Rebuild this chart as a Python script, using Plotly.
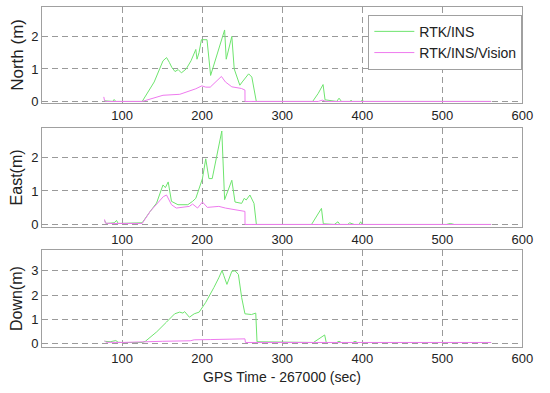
import plotly.graph_objects as go

# ---------------- data ----------------
# North
north_ins_t = [78, 88, 90, 92, 125, 140, 151, 155.5, 159, 162, 166, 170, 174, 180, 186, 192, 193.5, 196,
               199, 206, 210.5, 228, 230, 237, 240, 247, 250, 258, 262, 267.6, 338, 345, 351, 353.5,
               368, 371, 374, 385, 386, 387, 398, 400, 402, 561]
north_ins_v = [0.02, 0.0, 0.06, 0.0, 0.0, 0.6, 1.25, 1.35, 1.2, 1.05, 0.92, 0.98, 0.88, 1.0, 1.25, 1.6, 1.3, 1.5,
               1.9, 1.9, 0.8, 2.2, 1.3, 2.0, 1.0, 0.5, 0.6, 0.85, 0.75, 0.0, 0.0, 0.25, 0.52, 0.05,
               0.0, 0.1, 0.0, 0.0, 0.04, 0.0, 0.0, 0.04, 0.0, 0.0]
north_vis_t = [77, 78, 80, 125, 151, 172, 192, 199.5, 204.5, 210, 224, 229, 237, 249, 253.4, 253.5,
               345, 350, 355, 561]
north_vis_v = [0.14, 0.02, 0.0, 0.0, 0.19, 0.22, 0.39, 0.48, 0.44, 0.44, 0.77, 0.6, 0.45, 0.4, 0.35, 0.0,
               0.0, 0.04, 0.0, 0.0]

# East
east_ins_t = [78, 80, 90, 93, 95, 100, 125, 135, 143, 151, 154, 157.5, 161.6, 169.7, 182, 188, 192, 200.3,
              204.4, 208.4, 212.5, 224.5, 228, 237, 241, 249.3, 252.5, 255, 259.6, 264.7, 267.7, 336.6,
              343, 349, 351.3, 365, 369.6, 372, 382, 384, 390, 396, 398, 400, 505, 510, 515, 561]
east_ins_v = [0.12, 0.03, 0.05, 0.12, 0.03, 0.03, 0.05, 0.39, 0.64, 1.18, 1.1, 1.27, 0.69, 0.59, 0.59, 0.69, 0.78, 1.37,
              1.96, 1.37, 1.37, 2.79, 0.74, 1.32, 0.67, 0.63, 0.78, 0.73, 0.88, 0.63, 0.0, 0.0,
              0.25, 0.48, 0.02, 0.0, 0.08, 0.0, 0.0, 0.05, 0.0, 0.0, 0.08, 0.0, 0.0, 0.03, 0.0, 0.0]
east_vis_t = [78, 79, 85, 125, 135, 143, 151.4, 155.4, 161.6, 167.6, 184, 188, 194.2, 200.3, 206.4, 220.8,
              229, 241, 253.4, 253.5, 561]
east_vis_v = [0.15, 0.04, 0.03, 0.03, 0.39, 0.62, 0.83, 0.88, 0.59, 0.49, 0.54, 0.61, 0.49, 0.67, 0.51, 0.54,
              0.49, 0.44, 0.39, 0.0, 0.0]

# Down
down_ins_t = [78, 85, 92, 95, 100, 125, 129, 143.2, 155.4, 165.6, 171.8, 175.9, 178, 184, 190, 196.2, 204.4,
              210.5, 214.6, 220.7, 224.8, 227, 230.9, 237, 241, 245.2, 249.3, 253.4, 261.6, 266.9, 268.5,
              339, 353, 355, 368, 371, 374, 388, 391, 394, 561]
down_ins_v = [0.1, 0.08, 0.13, 0.06, 0.05, 0.05, 0.1, 0.49, 0.89, 1.23, 1.3, 1.26, 1.32, 1.09, 1.23, 1.3, 1.7,
              2.04, 2.31, 2.71, 3.01, 2.8, 2.44, 2.98, 3.0, 2.85, 1.9, 1.23, 1.2, 1.26, 0.08,
              0.05, 0.36, 0.05, 0.05, 0.1, 0.05, 0.05, 0.1, 0.05, 0.05]
down_vis_t = [78, 80, 100, 125, 150, 185, 190, 210, 250, 253.4, 254, 561]
down_vis_v = [0.12, 0.06, 0.05, 0.06, 0.1, 0.12, 0.16, 0.17, 0.2, 0.2, 0.05, 0.05]

x_ticks = [100, 200, 300, 400, 500, 600]
series_names = ["RTK/INS", "RTK/INS/Vision"]
y_titles = ["North (m)", "East(m)", "Down(m)"]
x_title = "GPS Time - 267000 (sec)"

# ---------------- figure ----------------
GREEN = "#6ee46e"
MAGENTA = "#ee7aee"
W, H = 550, 393

panels = [
    (north_ins_t, north_ins_v, north_vis_t, north_vis_v, [-0.06, 2.91], [0, 1, 2], (7, 105), 17),
    (east_ins_t, east_ins_v, east_vis_t, east_vis_v, [-0.09, 2.88], [0, 1, 2], (130, 231), 16),
    (down_ins_t, down_ins_v, down_vis_t, down_vis_v, [-0.12, 3.85], [0, 1, 2, 3], (254, 352), 16),
]

fig = go.Figure()
x0, x1 = 43 / W, 533 / W
FAM = "Liberation Sans, Arial, sans-serif"
font = dict(family=FAM, size=13, color="#222222")
annotations = []
for i, (ti, vi, tv, vv, yr, yt, (top, bot), tsize) in enumerate(panels):
    n = "" if i == 0 else str(i + 1)
    fig.add_trace(go.Scatter(x=ti, y=vi, mode="lines", line=dict(color=GREEN, width=1),
                             name=series_names[0], showlegend=(i == 0),
                             xaxis="x" + n, yaxis="y" + n))
    fig.add_trace(go.Scatter(x=tv, y=vv, mode="lines", line=dict(color=MAGENTA, width=1),
                             name=series_names[1], showlegend=(i == 0),
                             xaxis="x" + n, yaxis="y" + n))
    axis_common = dict(showline=True, mirror=True, linecolor="#a0a0a0", linewidth=1,
                       showgrid=True, gridcolor="#9a9a9a", griddash="6px,4px", gridwidth=1,
                       zeroline=False, ticks="", tickfont=font)
    fig.layout["xaxis" + n] = dict(domain=[x0, x1], range=[0, 600], tickvals=x_ticks,
                                   anchor="y" + n, **axis_common)
    fig.layout["yaxis" + n] = dict(domain=[1 - bot / H, 1 - top / H], range=yr, tickvals=yt,
                                   anchor="x" + n, **axis_common)
    annotations.append(dict(text=y_titles[i], x=17 / W, y=1 - (top + bot) / 2 / H,
                            xref="paper", yref="paper", textangle=-90, showarrow=False,
                            font=dict(family=FAM, size=tsize, color="#222222"),
                            xanchor="center", yanchor="middle"))

annotations.append(dict(text=x_title, x=(43 + 533) / 2 / W, y=1 - 383 / H, xref="paper", yref="paper",
                        showarrow=False, xanchor="center", yanchor="middle",
                        font=dict(family=FAM, size=14, color="#222222")))

fig.update_layout(
    width=W, height=H, margin=dict(l=0, r=0, t=0, b=0),
    paper_bgcolor="white", plot_bgcolor="white",
    annotations=annotations,
    legend=dict(x=x1, y=1 - 15 / H, xanchor="right", yanchor="top",
                bgcolor="white", bordercolor="#a0a0a0", borderwidth=1,
                font=dict(family=FAM, size=14, color="#222222"),
                tracegroupgap=0, itemwidth=40, entrywidth=112, entrywidthmode="pixels"),
    showlegend=True,
)

fig.write_html("out.html", config={"displayModeBar": False},
               post_script="document.body.style.margin='0';document.body.style.overflow='hidden';")
